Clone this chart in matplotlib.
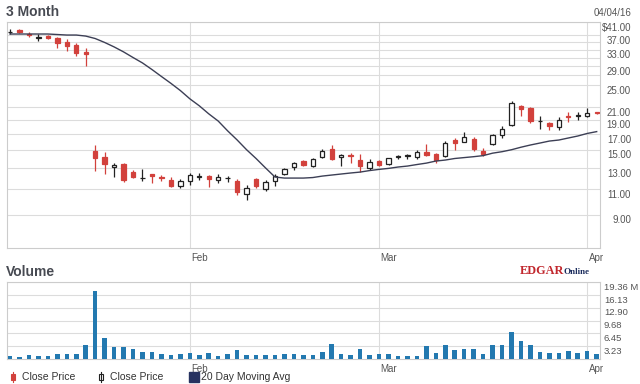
import numpy as np
import matplotlib
matplotlib.use("Agg")
import matplotlib.pyplot as plt
from matplotlib.ticker import FixedLocator, NullFormatter
from matplotlib.patches import Rectangle

plt.rcParams['font.family'] = ['Liberation Sans', 'DejaVu Sans']

# daily candles, 3 month chart ending 04/04/16 (index = trading day)
opens = [37.9, 38.5, 37.3, 36.2, 36.7, 36.1, 35.1, 34.1, 32.4, 14.9,
         14.2, 13.1, 13.4, 12.6, 12.0, 12.35, 12.1, 11.8, 11.25, 11.7,
         12.1, 12.15, 11.85, 12.0, 11.7, 10.6, 11.9, 11.0, 11.7, 12.4,
         13.1, 13.75, 13.2, 14.2, 15.05, 14.2, 14.35, 13.85, 13.0, 13.75,
         13.4, 14.2, 14.3, 14.15, 14.75, 14.45, 14.3, 16.2, 16.0, 16.3,
         14.9, 15.65, 16.85, 18.2, 21.1, 20.9, 18.75, 18.5, 18.0, 19.55,
         19.6, 19.5, 20.15]
highs = [38.8, 38.7, 37.9, 37.4, 36.9, 36.5, 35.9, 34.7, 33.3, 15.6,
         14.7, 13.5, 13.5, 12.8, 12.9, 12.35, 12.25, 12.1, 11.9, 12.5,
         12.5, 12.3, 12.4, 12.15, 11.9, 11.36, 12.0, 11.8, 12.4, 13.0,
         13.6, 13.8, 14.05, 15.1, 15.55, 14.5, 14.6, 14.5, 13.9, 13.8,
         14.1, 14.4, 14.5, 14.97, 15.7, 14.6, 16.05, 16.4, 17.3, 16.6,
         15.2, 16.95, 18.05, 22.0, 21.3, 21.0, 19.5, 18.7, 19.4, 20.2,
         20.25, 20.8, 20.25]
lows = [37.2, 37.6, 36.5, 35.2, 35.8, 33.5, 32.7, 31.4, 29.1, 12.7,
        12.4, 12.1, 11.6, 12.0, 11.7, 11.55, 11.7, 11.2, 11.1, 11.4,
        11.8, 11.2, 11.55, 11.6, 10.5, 10.1, 11.1, 10.8, 11.25, 12.3,
        12.8, 13.2, 13.1, 14.0, 13.8, 13.2, 13.5, 12.6, 12.8, 13.2,
        13.35, 13.9, 13.9, 13.9, 14.25, 13.5, 14.2, 14.97, 15.9, 14.9,
        14.3, 15.55, 16.4, 18.15, 19.5, 18.5, 17.6, 17.5, 17.55, 18.7,
        18.95, 19.35, 19.95]
closes = [38.0, 38.0, 37.1, 36.3, 36.1, 34.7, 34.0, 32.2, 31.8, 14.1,
          13.4, 13.35, 11.8, 12.1, 12.05, 12.2, 12.0, 11.25, 11.7, 12.3,
          12.15, 11.95, 12.1, 12.05, 10.75, 11.1, 11.25, 11.65, 12.2, 12.9,
          13.5, 13.3, 13.9, 14.85, 13.95, 14.4, 14.25, 13.2, 13.6, 13.3,
          14.0, 14.25, 14.35, 14.75, 14.4, 13.85, 15.8, 15.8, 16.6, 15.1,
          14.5, 16.85, 17.7, 21.6, 20.6, 18.8, 18.8, 18.1, 19.0, 19.4,
          19.7, 20.1, 20.0]
ma20 = [37.3, 37.3, 37.3, 37.3, 37.3, 37.15, 37.0, 37.0, 36.7, 36.0,
        34.9, 33.7, 32.4, 31.0, 29.7, 28.2, 26.7, 25.3, 23.9, 22.4,
        21.2, 19.9, 18.8, 17.4, 16.2, 15.0, 14.0, 13.0, 12.1, 12.0,
        12.0, 12.0, 12.05, 12.19, 12.29, 12.39, 12.49, 12.58, 12.73, 12.85,
        12.95, 13.09, 13.19, 13.35, 13.5, 13.72, 13.83, 14.0, 14.1, 14.2,
        14.32, 14.6, 14.77, 15.0, 15.3, 15.57, 15.81, 16.06, 16.19, 16.45,
        16.71, 17.05, 17.3]
volume = [0.81, 0.57, 0.97, 0.81, 0.81, 1.29, 1.29, 1.29, 3.47, 17.0,
          5.4, 3.07, 3.07, 2.5, 1.86, 1.86, 1.29, 1.05, 1.29, 1.53,
          1.05, 1.53, 0.81, 1.29, 2.26, 1.05, 1.05, 1.05, 1.05, 1.29,
          1.29, 1.05, 1.05, 1.7, 3.72, 1.29, 1.05, 2.5, 1.05, 1.29,
          1.29, 0.65, 0.65, 0.81, 3.39, 1.53, 3.47, 2.34, 2.5, 2.5,
          1.29, 3.47, 3.47, 6.87, 4.44, 3.47, 1.86, 1.53, 1.53, 2.02,
          1.53, 2.02, 1.29]

month_pos = [19, 39, 61]
month_labels = ['Feb', 'Mar', 'Apr']
price_ticks = [41, 37, 33, 29, 25, 21, 19, 17, 15, 13, 11, 9]
price_labels = ['$41.00', '37.00', '33.00', '29.00', '25.00', '21.00',
                '19.00', '17.00', '15.00', '13.00', '11.00', '9.00']
price_minor = [35, 31, 27]
vol_ticks = [3.23, 6.45, 9.68, 12.90, 16.13, 19.36]
vol_labels = ['3.23', '6.45', '9.68', '12.90', '16.13', '19.36 M']

RED = '#d2413c'
GRID = '#dcdcdc'
FRAME = '#cccccc'
TXT = '#555555'

fig = plt.figure(figsize=(6.4, 3.84), dpi=100)

def fx(px):
    return px / 640

def fy(py):
    return 1 - py / 384

ax = fig.add_axes([fx(7), fy(248), fx(593), 226 / 384])
axv = fig.add_axes([fx(7), fy(359), fx(593), 77 / 384])

x = np.arange(len(closes))
o = np.array(opens)
c = np.array(closes)
up = c >= o

# candles: red = closed lower, hollow = closed higher
for mask, face, edge in [(~up, RED, RED), (up, 'white', '#222222')]:
    ax.vlines(x[mask], np.array(lows)[mask], np.array(highs)[mask],
              color=edge, lw=0.9, zorder=2)
    bot = np.minimum(o, c)[mask]
    hgt = np.maximum(np.abs(c - o)[mask], 0.02)
    ax.bar(x[mask], hgt, bottom=bot, width=0.46, color=face,
           edgecolor=edge, lw=0.9, zorder=3)

ax.plot(x, ma20, color='#3c3f55', lw=1.0, zorder=4)

ax.set_yscale('log')
ax.set_ylim(6.92, 41)
ax.set_xlim(-0.32, 62.35)
ax.yaxis.set_major_locator(FixedLocator(price_ticks))
ax.yaxis.set_minor_locator(FixedLocator(price_minor))
ax.yaxis.set_major_formatter(NullFormatter())
ax.yaxis.set_minor_formatter(NullFormatter())
ax.set_xticks(month_pos)
ax.set_xticklabels([])
ax.tick_params(which='both', length=0, labelleft=False, labelbottom=False)
ax.grid(True, which='both', color=GRID, lw=0.8, zorder=0)
ax.set_axisbelow(True)

for v, lab in zip(price_ticks, price_labels):
    ax.annotate(lab, xy=(1.0523, v), xycoords=ax.get_yaxis_transform(),
                xytext=(0, -0.5), textcoords='offset points',
                ha='right', va='top', fontsize=7, color=TXT)

# volume
axv.bar(x, volume, width=0.48, color='#2379b0', zorder=3)
axv.set_ylim(0, 19.36)
axv.set_xlim(ax.get_xlim())
axv.set_yticks(vol_ticks)
axv.set_yticklabels([])
axv.set_xticks(month_pos)
axv.set_xticklabels([])
axv.tick_params(length=0)
axv.grid(True, color=GRID, lw=0.8, zorder=0)
axv.set_axisbelow(True)

for v, lab in zip(vol_ticks, vol_labels):
    axv.annotate(lab, xy=(1.0067, v), xycoords=axv.get_yaxis_transform(),
                 xytext=(0, -0.5), textcoords='offset points',
                 ha='left', va='top', fontsize=6.8, color=TXT)

for a in (ax, axv):
    for s in a.spines.values():
        s.set_color(FRAME)
        s.set_linewidth(0.8)
    for p, lab in zip(month_pos, month_labels):
        a.annotate(lab, xy=(p, 0), xycoords=a.get_xaxis_transform(),
                   xytext=(1, -3.5), textcoords='offset points',
                   ha='left', va='top', fontsize=7, color=TXT)

# titles and decorations
fig.text(fx(6), fy(12), '3 Month', fontsize=10, fontweight='bold',
         color='#474a52', va='center', ha='left')
fig.text(fx(6), fy(272), 'Volume', fontsize=10, fontweight='bold',
         color='#474a52', va='center', ha='left')
fig.text(fx(631), fy(13), '04/04/16', fontsize=7, color=TXT,
         va='center', ha='right')
fig.text(fx(520), fy(271), 'EDGAR', fontsize=8.8, fontweight='bold',
         family='Liberation Serif', color='#c1272d', va='center', ha='left')
fig.text(fx(564), fy(272), 'Online', fontsize=6.5, fontweight='bold',
         family='Liberation Serif', color='#1c2d5e', va='center', ha='left')

# legend
fig.add_artist(Rectangle((fx(10.5), fy(379.5)), fx(4), 6 / 384,
                         facecolor=RED, edgecolor=RED, lw=0.8,
                         transform=fig.transFigure))
fig.add_artist(plt.Line2D([fx(12.5), fx(12.5)], [fy(382), fy(372)],
                          color=RED, lw=0.8, transform=fig.transFigure))
fig.text(fx(22), fy(377), 'Close Price', fontsize=7.5, color='#333333',
         va='center', ha='left')
fig.add_artist(plt.Line2D([fx(101), fx(101)], [fy(382), fy(372)],
                          color='#222222', lw=0.8, transform=fig.transFigure))
fig.add_artist(Rectangle((fx(99), fy(380)), fx(4), 6 / 384,
                         facecolor='white', edgecolor='#222222', lw=0.8,
                         transform=fig.transFigure))
fig.text(fx(110), fy(377), 'Close Price', fontsize=7.5, color='#333333',
         va='center', ha='left')
fig.add_artist(Rectangle((fx(189), fy(382)), fx(10), 10 / 384,
                         facecolor='#263260', edgecolor='#263260',
                         transform=fig.transFigure))
fig.text(fx(201), fy(377), '20 Day Moving Avg', fontsize=7.5,
         color='#333333', va='center', ha='left')

fig.savefig('out.png', dpi=100)
